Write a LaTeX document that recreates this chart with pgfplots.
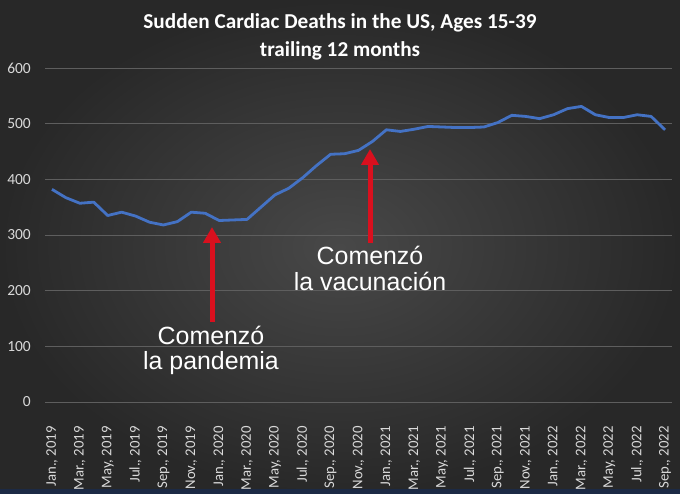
\documentclass[border=0pt]{standalone}
\usepackage{fontspec}
\setmainfont{Carlito}
\newfontfamily\annfont{Liberation Sans}
\usepackage{pgfplots}
\pgfplotsset{compat=1.18}
\usetikzlibrary{arrows.meta}
\definecolor{bgin}{HTML}{484848}
\definecolor{bgout}{HTML}{282828}
\definecolor{strip}{HTML}{1C2A45}
\definecolor{lineblue}{HTML}{4472C4}
\definecolor{gridc}{HTML}{5E5E5E}
\definecolor{tickc}{HTML}{D9D9D9}
\definecolor{arrowred}{HTML}{D9101E}
\pgfplotstableread{
idx val
0 382
1 367
2 357
3 359
4 335
5 341
6 334
7 323
8 318
9 324
10 341
11 339
12 326
13 327
14 328
15 350
16 372
17 384
18 403
19 425
20 445
21 446
22 452
23 468
24 489
25 486
26 490
27 495
28 494
29 493
30 493
31 494
32 502
33 515
34 513
35 509
36 516
37 527
38 531
39 516
40 511
41 511
42 516
43 513
44 489
}\deaths
\begin{document}
\begin{tikzpicture}[x=1bp,y=1bp]
\shade[inner color=bgin, outer color=bgout] (0,0) rectangle (680,494);
\fill[strip] (0,0) rectangle (680,5);
\node[text=white, font=\bfseries\fontsize{21.3}{26}\selectfont, anchor=base] at (340,465) {Sudden Cardiac Deaths in the US, Ages 15-39};
\node[text=white, font=\bfseries\fontsize{21.3}{26}\selectfont, anchor=base] at (340,437) {trailing 12 months};
\begin{axis}[
  at={(45bp,92bp)}, anchor=south west,
  scale only axis, width=627bp, height=334bp,
  xmin=-0.5, xmax=44.5, ymin=0, ymax=600,
  axis line style={draw=none},
  ytick={0,100,...,600},
  ymajorgrids, major grid style={gridc, line width=0.8bp},
  xtick={0,2,...,44},
  xticklabels={{Jan., 2019},{Mar., 2019},{May, 2019},{Jul., 2019},{Sep., 2019},{Nov., 2019},{Jan., 2020},{Mar., 2020},{May, 2020},{Jul., 2020},{Sep., 2020},{Nov., 2020},{Jan., 2021},{Mar., 2021},{May, 2021},{Jul., 2021},{Sep., 2021},{Nov., 2021},{Jan., 2022},{Mar., 2022},{May, 2022},{Jul., 2022},{Sep., 2022}},
  xticklabel shift=24bp,
  x tick label style={rotate=90, anchor=east, text=tickc, font=\fontsize{14.8}{16}\selectfont, inner sep=0pt},
  y tick label style={text=tickc, font=\fontsize{15.5}{17}\selectfont, anchor=east, inner sep=0pt, xshift=-14bp},
  /pgf/number format/assume math mode=true,
  major tick length=0pt,
  clip=false,
]
\addplot[lineblue, line width=2.8bp, line join=round] table[x=idx, y=val] {\deaths};
\end{axis}
\draw[arrowred, line width=5bp, -{Triangle[length=16bp, width=17bp]}] (212,172) -- (212,267);
\draw[arrowred, line width=5bp, -{Triangle[length=16bp, width=17bp]}] (370,251) -- (370,345);
\node[text=white, font=\annfont\fontsize{25}{30}\selectfont, anchor=base] at (370,229) {Comenzó};
\node[text=white, font=\annfont\fontsize{25}{30}\selectfont, anchor=base] at (370,203) {la vacunación};
\node[text=white, font=\annfont\fontsize{25}{30}\selectfont, anchor=base] at (211,149) {Comenzó};
\node[text=white, font=\annfont\fontsize{25}{30}\selectfont, anchor=base] at (211,124) {la pandemia};
\end{tikzpicture}
\end{document}
